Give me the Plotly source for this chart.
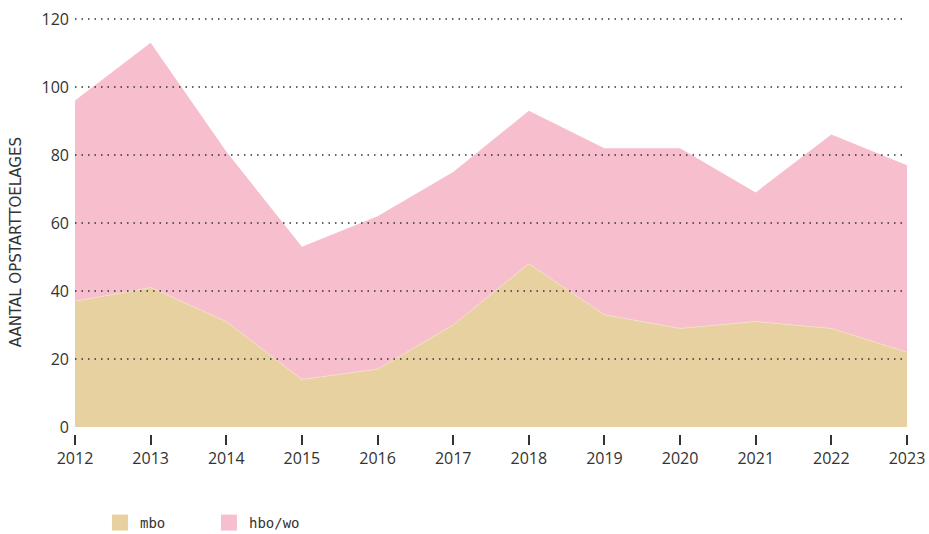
import plotly.graph_objects as go

years = [2012, 2013, 2014, 2015, 2016, 2017, 2018, 2019, 2020, 2021, 2022, 2023]
mbo = [37, 41, 31, 14, 17, 30, 48, 33, 29, 31, 29, 22]
totaal = [96, 113, 81, 53, 62, 75, 93, 82, 82, 69, 86, 77]
hbo_wo = [t - m for t, m in zip(totaal, mbo)]
y_ticks = [0, 20, 40, 60, 80, 100, 120]
y_title = "AANTAL OPSTARTTOELAGES"

C_MBO = "#e8d1a0"
C_HBO = "#f7bfce"

fig = go.Figure()
fig.add_trace(go.Scatter(x=years, y=mbo, name="mbo", stackgroup="one", mode="lines",
                         line=dict(width=0.6, color="#f3e6c8"), fillcolor=C_MBO, showlegend=False))
fig.add_trace(go.Scatter(x=years, y=hbo_wo, name="hbo/wo", stackgroup="one", mode="lines",
                         line=dict(width=0, color=C_HBO), fillcolor=C_HBO, showlegend=False))
# legend entries with square swatches
fig.add_trace(go.Scatter(x=[None], y=[None], name="mbo", mode="markers",
                         marker=dict(symbol="square", size=16, color=C_MBO)))
fig.add_trace(go.Scatter(x=[None], y=[None], name="hbo/wo", mode="markers",
                         marker=dict(symbol="square", size=16, color=C_HBO)))

for v in y_ticks[1:]:
    fig.add_shape(type="line", xref="x", yref="y", x0=years[0], x1=years[-1], y0=v, y1=v,
                  line=dict(color="#333333", width=1.5, dash="1.5px,5px"), layer="above")

fig.add_annotation(text=y_title, textangle=-90, xref="paper", yref="paper",
                   x=-0.0709, y=0.46, xanchor="center", yanchor="middle", showarrow=False,
                   font=dict(family="DejaVu Sans, sans-serif", size=15, color="#333333"))

fig.update_layout(
    width=929, height=534,
    margin=dict(l=75, r=22, t=17, b=100, autoexpand=False),
    plot_bgcolor="white", paper_bgcolor="white",
    font=dict(family="Open Sans, sans-serif", color="#333333", size=14),
    showlegend=True,
    legend=dict(orientation="h", x=0.03, xanchor="left", y=-0.2134, yanchor="middle",
                font=dict(family="DejaVu Sans Mono, monospace", size=14, color="#333333"),
                entrywidth=64, entrywidthmode="pixels", itemsizing="trace",
                traceorder="normal"),
    xaxis=dict(range=[years[0], years[-1]], tickvals=years, ticks="outside", ticklen=10,
               tickcolor="#333333", tickwidth=1.5, showgrid=False, showline=False, zeroline=False,
               automargin=False, tickfont=dict(size=16), ticklabeloverflow="allow"),
    yaxis=dict(range=[-2.06, 120.588], tickvals=y_ticks, showgrid=False, zeroline=False,
               showline=False, ticks="", tickfont=dict(size=16), automargin=False,
               ticklabelstandoff=5, ticklabeloverflow="allow"),
)

fig.write_html("out.html", config={"displayModeBar": False},
               post_script="document.body.style.margin='0';document.body.style.overflow='hidden';")
